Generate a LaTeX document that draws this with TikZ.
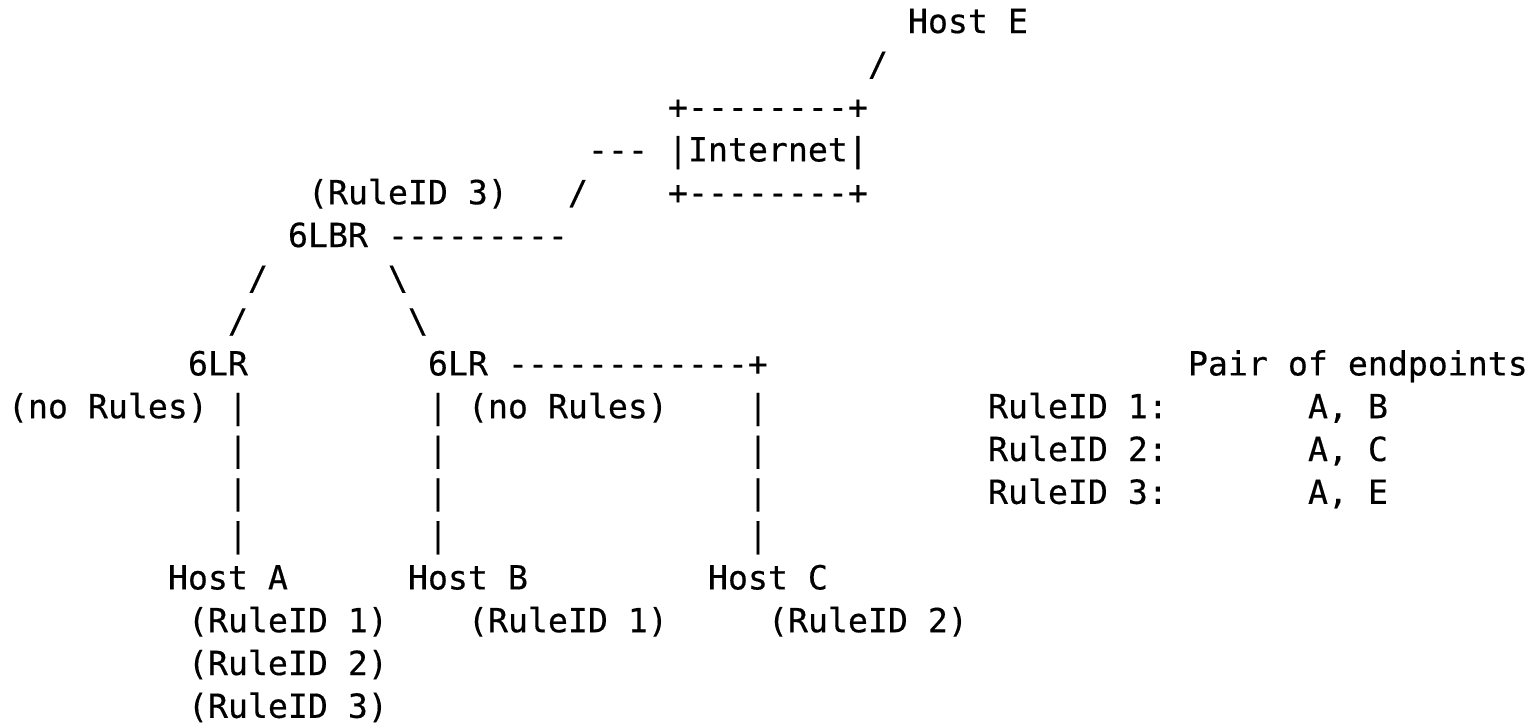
\documentclass[tikz,border=0pt]{standalone}
\usepackage{fontspec}
\setmonofont[FakeBold=0.4]{DejaVu Sans Mono}
\begin{document}
\begin{tikzpicture}[x=1pt,y=-1pt,
  asc/.style={anchor=base west,inner sep=0pt,outer sep=0pt,font=\ttfamily\fontsize{33.2}{42.8}\selectfont,text=black}]
\useasboundingbox (0,0) rectangle (1538,724);
\newcommand\asc[4]{\node[asc] (#1) at ({8+20*#2},{33+42.8*#3}) {#4};}
% row 0-4: Internet and Host E
\asc{hostE}{45}{0}{Host E}
\asc{slE}{43}{1}{/}
\asc{inetTop}{33}{2}{+--------+}
\asc{dashInet}{29}{3}{---}
\asc{inet}{33}{3}{|Internet|}
\asc{ruleBR}{15}{4}{(RuleID 3)}
\asc{slBR}{28}{4}{/}
\asc{inetBot}{33}{4}{+--------+}
% row 5: 6LBR
\asc{lbr}{14}{5}{6LBR}
\asc{lbrDash}{19}{5}{---------}
% rows 6-7
\asc{slA1}{12}{6}{/}
\asc{bsB1}{19}{6}{\textbackslash}
\asc{slA2}{11}{7}{/}
\asc{bsB2}{20}{7}{\textbackslash}
% row 8: 6LRs
\asc{lrA}{9}{8}{6LR}
\asc{lrB}{21}{8}{6LR}
\asc{lrBDash}{25}{8}{------------+}
\asc{pairHead}{59}{8}{Pair of endpoints}
% row 9
\asc{noRulesA}{0}{9}{(no Rules)}
\asc{pA9}{11}{9}{|}
\asc{pB9}{21}{9}{|}
\asc{noRulesB}{23}{9}{(no Rules)}
\asc{pC9}{37}{9}{|}
\asc{r1}{49}{9}{RuleID 1:}
\asc{e1}{65}{9}{A, B}
% row 10
\asc{pA10}{11}{10}{|}
\asc{pB10}{21}{10}{|}
\asc{pC10}{37}{10}{|}
\asc{r2}{49}{10}{RuleID 2:}
\asc{e2}{65}{10}{A, C}
% row 11
\asc{pA11}{11}{11}{|}
\asc{pB11}{21}{11}{|}
\asc{pC11}{37}{11}{|}
\asc{r3}{49}{11}{RuleID 3:}
\asc{e3}{65}{11}{A, E}
% row 12
\asc{pA12}{11}{12}{|}
\asc{pB12}{21}{12}{|}
\asc{pC12}{37}{12}{|}
% row 13: hosts
\asc{hostA}{8}{13}{Host A}
\asc{hostB}{20}{13}{Host B}
\asc{hostC}{35}{13}{Host C}
% rows 14-16
\asc{hA1}{9}{14}{(RuleID 1)}
\asc{hB1}{23}{14}{(RuleID 1)}
\asc{hC2}{38}{14}{(RuleID 2)}
\asc{hA2}{9}{15}{(RuleID 2)}
\asc{hA3}{9}{16}{(RuleID 3)}
\end{tikzpicture}
\end{document}
